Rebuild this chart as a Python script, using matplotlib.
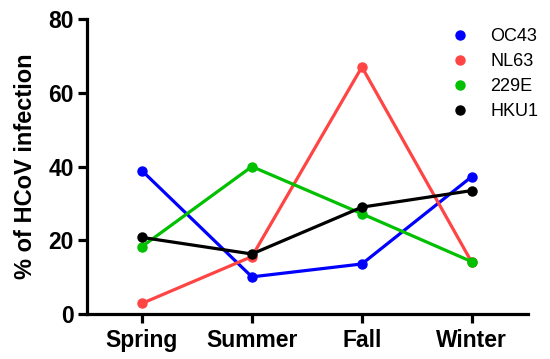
import matplotlib.pyplot as plt
from matplotlib.lines import Line2D

plt.rcParams["font.family"] = ["Liberation Sans", "DejaVu Sans"]

seasons = ["Spring", "Summer", "Fall", "Winter"]
oc43 = [38.9, 10.1, 13.6, 37.3]
nl63 = [2.9, 15.6, 67.0, 14.0]
hcov_229e = [18.3, 40.0, 27.2, 14.2]
hku1 = [20.8, 16.3, 29.0, 33.5]

series = [
    ("OC43", oc43, "#0000ff"),
    ("NL63", nl63, "#ff4444"),
    ("229E", hcov_229e, "#00c000"),
    ("HKU1", hku1, "#000000"),
]

fig = plt.figure(figsize=(5.5, 3.59), dpi=100)
ax = fig.add_axes([0.158, 0.125, 0.802, 0.822])

x = list(range(len(seasons)))
for name, vals, col in series:
    ax.plot(x, vals, "-o", color=col, lw=2.3, markersize=6.5, label=name,
            clip_on=False, zorder=3)

ax.set_xlim(-0.5, 3.51)
ax.set_ylim(0, 80)
ax.set_yticks([0, 20, 40, 60, 80])
ax.set_xticks(x)
ax.set_xticklabels(seasons)

for s in ["top", "right"]:
    ax.spines[s].set_visible(False)
for s in ["left", "bottom"]:
    ax.spines[s].set_linewidth(2.3)
ax.tick_params(width=2.3, length=6.5, labelsize=16.5, pad=3)
ax.tick_params(axis="x", pad=4)
for lab in ax.get_xticklabels() + ax.get_yticklabels():
    lab.set_fontweight("bold")

ax.set_ylabel("% of HCoV infection", fontsize=17, fontweight="bold", labelpad=8)

handles = [Line2D([], [], ls="none", marker="o", color=c, markersize=6.5)
           for _, _, c in series]
ax.legend(handles, [s[0] for s in series], loc="upper right",
          bbox_to_anchor=(1.06, 1.025), frameon=False, fontsize=13,
          handletextpad=1.2, labelspacing=0.45, handlelength=1.0)

fig.savefig("out.png", dpi=100)
